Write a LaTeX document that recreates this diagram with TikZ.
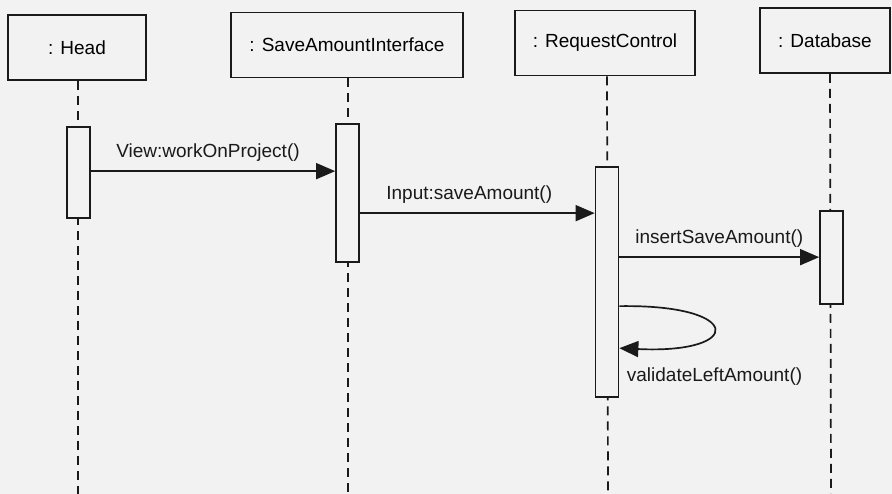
\documentclass[tikz,border=0pt]{standalone}
\usepackage{fontspec}
\setmainfont{Liberation Sans}
\usepackage{xcolor}
\definecolor{paper}{HTML}{F2F2F2}
\definecolor{ink}{HTML}{1A1A1A}
\usetikzlibrary{arrows.meta, positioning}

\begin{document}
\begin{tikzpicture}[
  x=1pt, y=-1pt,
  font=\fontsize{19}{23}\selectfont,
  actor/.style={rectangle, draw=ink, line width=1.7pt, fill=paper,
                minimum height=65pt, inner sep=4pt},
  act/.style={rectangle, draw=ink, line width=1.7pt, fill=paper,
              minimum width=23pt, inner sep=0pt},
  life/.style={draw=ink, line width=1.7pt, dash pattern=on 9pt off 6pt},
  msg/.style={-{Triangle[length=19pt, width=16pt]}, line width=1.7pt,
              draw=ink},
  lbl/.style={text=ink, above=6pt}
]
  \fill[paper] (0,0) rectangle (892,494);
  \useasboundingbox (0,0) rectangle (892,494);
  \coordinate (bottom) at (0,494);

  % participants
  \node[actor, minimum width=138pt] (head) at (77,47.5) {: Head};
  \node[actor, minimum width=232pt] (sai) at (347,45) {: SaveAmountInterface};
  \node[actor, minimum width=180pt] (rc) at (605,43) {: RequestControl};
  \node[actor, minimum width=130pt] (db) at (825,40.5) {: Database};

  % lifelines
  \draw[life] (head.south) ++(1,0) -- (78,494);
  \draw[life] (sai.south) ++(1,0) -- (348,494);
  \draw[life] (rc.south) ++(2,0) -- (608,494);
  \draw[life] (db.south) ++(5,0) -- (831,494);

  % activations
  \node[act, minimum height=91pt] (headact) at (78.5,172.5) {};
  \node[act, minimum height=138pt] (saiact) at (347.5,193) {};
  \node[act, minimum height=230pt] (rcact) at (607,282) {};
  \node[act, minimum height=93pt] (dbact) at (831.5,257.5) {};

  % messages
  \draw[msg] ([yshift=-45pt]headact.north east) coordinate (m1)
    -- node[lbl, xshift=-5pt]{View:workOnProject()} (m1 -| saiact.west);
  \draw[msg] ([yshift=-90pt]saiact.north east) coordinate (m2)
    -- node[lbl, xshift=-8pt]{Input:saveAmount()} (m2 -| rcact.west);
  \draw[msg] ([yshift=-91pt]rcact.north east) coordinate (m3)
    -- node[lbl]{insertSaveAmount()} (m3 -| dbact.west);

  % self call
  \draw[msg] ([yshift=-140pt]rcact.north east) coordinate (s1)
    .. controls +(125,-2) and +(125,6) .. ([yshift=-182pt]rcact.north east)
    coordinate (s2);
  \node[text=ink, anchor=west] (selflbl) at ([xshift=4pt, yshift=-28pt]s2)
    {validateLeftAmount()};
\end{tikzpicture}
\end{document}
